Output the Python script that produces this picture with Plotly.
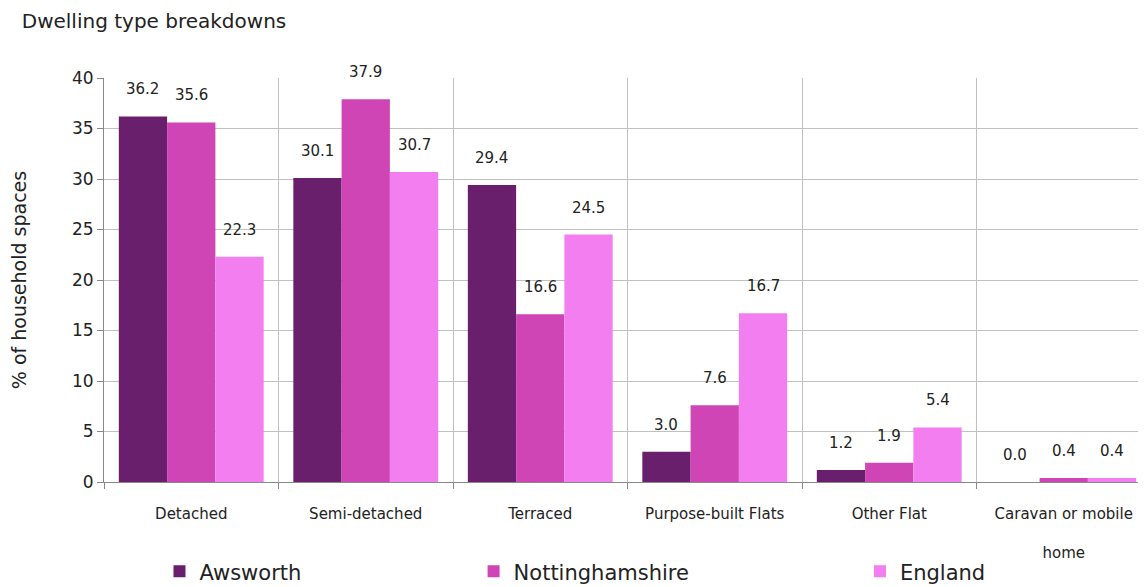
import plotly.graph_objects as go

categories = ["Detached", "Semi-detached", "Terraced", "Purpose-built Flats", "Other Flat", "Caravan or mobile<br><br>home"]
awsworth = [36.2, 30.1, 29.4, 3.0, 1.2, 0.0]
nottinghamshire = [35.6, 37.9, 16.6, 7.6, 1.9, 0.4]
england = [22.3, 30.7, 24.5, 16.7, 5.4, 0.4]
series_names = ["Awsworth", "Nottinghamshire", "England"]
colors = ["#6a1f6c", "#cf45b5", "#f27ef0"]
legends = ["legend", "legend2", "legend3"]

FONT = "DejaVu Sans, Liberation Sans, Arial"
TXT = "#222222"
W, H = 1146, 587
ML, MR, MT, MB = 96, 3, 70, 108
BARGAP = 0.17

fig = go.Figure()
all_vals = [awsworth, nottinghamshire, england]
for name, vals, col, lg in zip(series_names, all_vals, colors, legends):
    fig.add_trace(go.Bar(
        x=categories, y=vals, name=name, marker=dict(color=col, line=dict(width=0)),
        legend=lg, showlegend=True,
    ))

# value labels above bars, shifted to each bar of the group
cat_px = (W - ML - MR) / len(categories)
bar_px = cat_px * (1 - BARGAP) / len(series_names)
annotations = []
for i, vals in enumerate(all_vals):
    off = (i - (len(series_names) - 1) / 2) * bar_px
    for c, v in zip(categories, vals):
        annotations.append(dict(x=c, y=v, xref="x", yref="y", text=f"{v:.1f}", showarrow=False,
                                xshift=off, yshift=27, yanchor="middle",
                                font=dict(family=FONT, size=15, color=TXT)))

legend_common = dict(orientation="h", yanchor="middle", y=-0.222, xanchor="left",
                     font=dict(family=FONT, size=21, color=TXT),
                     bgcolor="rgba(0,0,0,0)", itemwidth=30)
fig.update_layout(
    width=W, height=H,
    margin=dict(l=ML, r=MR, t=MT, b=MB),
    paper_bgcolor="white", plot_bgcolor="white",
    barmode="group", bargap=BARGAP, bargroupgap=0,
    annotations=annotations,
    showlegend=True,
    title=dict(text="Dwelling type breakdowns", x=0.012, xanchor="left", y=0.978, yanchor="middle",
               font=dict(family=FONT, size=20, color=TXT)),
    legend=dict(**legend_common, x=0.053),
    legend2=dict(**legend_common, x=0.353),
    legend3=dict(**legend_common, x=0.722),
    xaxis=dict(type="category", tickson="boundaries", showgrid=True, gridcolor="#c0c0c0",
               showline=True, linecolor="#888888", ticks="outside", ticklen=6, tickcolor="#888888",
               tickfont=dict(family=FONT, size=15, color=TXT), ticklabelstandoff=18,
               automargin=False),
    yaxis=dict(range=[0, 40], dtick=5, showgrid=True, gridcolor="#c0c0c0", zeroline=False,
               showline=True, linecolor="#888888", ticks="outside", ticklen=6, tickcolor="#888888",
               tickfont=dict(family=FONT, size=17, color=TXT), automargin=False,
               title=dict(text="% of household spaces", standoff=40,
                          font=dict(family=FONT, size=19, color=TXT))),
)
fig.write_html("out.html")
